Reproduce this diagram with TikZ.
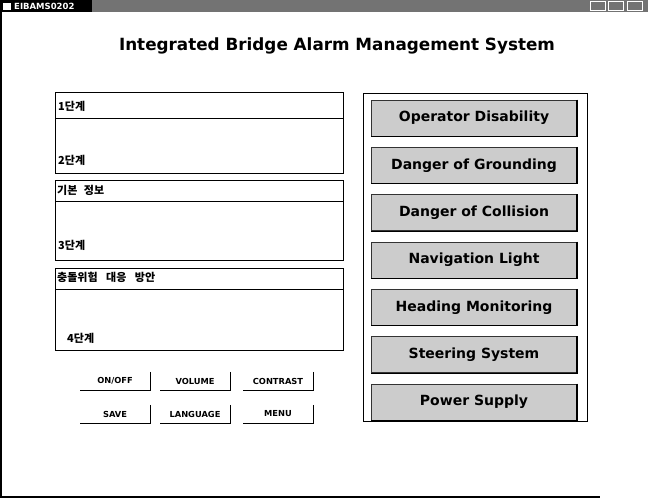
\documentclass[tikz,border=0pt]{standalone}
\usepackage{fontspec}
\setmainfont{Liberation Sans}
\newfontfamily\wide{DejaVu Sans}
\newfontfamily\cjk{Noto Sans CJK KR}
\usetikzlibrary{positioning}

\begin{document}
\begin{tikzpicture}
[x=1pt,y=-1pt,node distance=10.5pt,
alarm/.style={draw=black!80,fill=black!20,line width=.3mm,minimum width=205pt,minimum height=36pt,inner sep=0pt,font=\wide\bfseries\fontsize{14}{16}\selectfont},
ctrlbtn/.style={minimum width=70pt,minimum height=18pt,inner sep=0pt,font=\wide\bfseries\fontsize{8.3}{9}\selectfont},
steplabel/.style={anchor=west,inner sep=0pt,font=\cjk\bfseries\fontsize{11}{12}\selectfont},
edge3d/.style={line width=.45mm,black}]
\useasboundingbox (0,0) rectangle (648,499);
\fill[white] (0,0) rectangle (648,499);
% window frame and title bar
\draw[line width=.5mm] (1,12) -- (1,497) -- (600,497);
\fill[black!55] (0,0) rectangle (648,12);
\fill[black] (0,0) rectangle (92,12);
\node[anchor=west,inner sep=0pt,text=white,font=\wide\bfseries\fontsize{8.5}{9}\selectfont] (wintitle) at (14,6) {EIBAMS0202};
\fill[white] (3,2.5) rectangle (11,9.5);
\foreach \x in {590,608,627} \draw[white,line width=.3mm] (\x,1.5) rectangle ++(15,9);
\node[font=\wide\bfseries\fontsize{16.8}{19}\selectfont,inner sep=0pt] (heading) at (337,46) {Integrated Bridge Alarm Management System};

% left panels
\draw[line width=.3mm] (55,92) rectangle (343,173);
\draw[line width=.3mm] (55,118) -- (343,118);
\draw[line width=.3mm] (55,180) rectangle (343,260);
\draw[line width=.3mm] (55,201) -- (343,201);
\draw[line width=.3mm] (55,268) rectangle (343,350);
\draw[line width=.3mm] (55,289) -- (343,289);
\node[steplabel] (stepa) at (58,106) {1단계};
\node[steplabel] (stepb) at (58,160) {2단계};
\node[steplabel] (basic) at (57,190) {기본\hspace{4pt} 정보};
\node[steplabel] (stepc) at (58,245) {3단계};
\node[steplabel] (counter) at (57,277) {충돌위험\hspace{6pt} 대응\hspace{6pt} 방안};
\node[steplabel] (stepd) at (67,338) {4단계};

% control buttons
\node[ctrlbtn] (onoff) at (115,381) {ON/OFF};
\node[ctrlbtn] (volume) at (195,381) {VOLUME};
\node[ctrlbtn] (contrast) at (278,381) {CONTRAST};
\node[ctrlbtn] (save) at (115,414) {SAVE};
\node[ctrlbtn] (language) at (195,414) {LANGUAGE};
\node[ctrlbtn] (menu) at (278,414) {MENU};
\foreach \n in {onoff,volume,contrast,save,language,menu}
  \draw[edge3d] (\n.north east) -- (\n.south east) -- (\n.south west);

% alarm panel
\draw[line width=.35mm] (363,93) rectangle (587,421);
\node[alarm] (opdis) at (474,118) {Operator Disability};
\node[alarm,below=of opdis] (ground) {Danger of Grounding};
\node[alarm,below=of ground] (collide) {Danger of Collision};
\node[alarm,below=of collide] (navlight) {Navigation Light};
\node[alarm,below=of navlight] (heading) {Heading Monitoring};
\node[alarm,below=of heading] (steer) {Steering System};
\node[alarm,below=of steer] (power) {Power Supply};
\foreach \n in {opdis,ground,collide,navlight,heading,steer,power}
  \draw[edge3d] (\n.north east) -- (\n.south east) -- (\n.south west);
\end{tikzpicture}
\end{document}
